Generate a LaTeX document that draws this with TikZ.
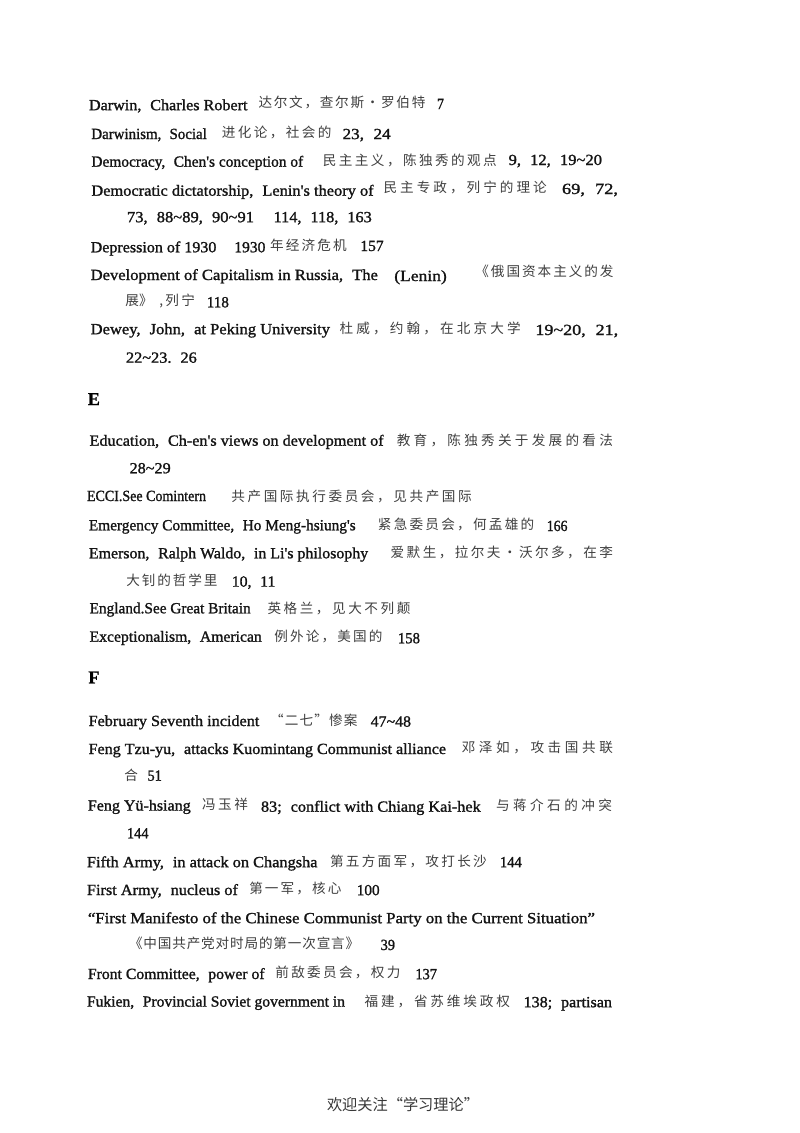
\documentclass[tikz,border=0pt]{standalone}
\usepackage{graphicx}
\usepackage{fontspec}
\newfontfamily\latf[FakeBold=1.3]{Liberation Serif}
\newfontfamily\headf[FakeBold=0.8]{Liberation Serif Bold}
\newfontfamily\hanf{Noto Sans CJK SC}
\definecolor{ink}{gray}{0.08}
\definecolor{haninkc}{gray}{0.25}
\newcount\nodeno
\newsavebox\fitb
\newdimen\fitd
\newcommand\fitw[3]{\sbox\fitb{#3}\fitd=\wd\fitb\pgfmathsetmacro\fitr{(#2-#1)/\the\fitd}\scalebox{\fitr}[1]{\usebox\fitb}}
\def\spr#1{\spra#1\relax}
\def\spra#1{#1\sprb}
\def\sprb#1{\ifx#1\relax\else\hfil#1\expandafter\sprb\fi}
\newcommand\cs{,\hspace{0.55em}}
\newcommand\tl{\textasciitilde}
\tikzset{
  lattext/.style={anchor=base west,inner sep=0pt,outer sep=0pt,text=ink,font=\latf\fontsize{15.5}{15.5}\selectfont},
  hantext/.style={anchor=base west,inner sep=0pt,outer sep=0pt,text=haninkc,font=\hanf\fontsize{13.6}{14}\selectfont},
  headtext/.style={anchor=base west,inner sep=0pt,outer sep=0pt,text=black,font=\headf\fontsize{18}{18}\selectfont},
  foottext/.style={anchor=base west,inner sep=0pt,outer sep=0pt,text=ink!85!white,font=\hanf\fontsize{15.5}{15.5}\selectfont}
}
\newcommand\lat[4]{\global\advance\nodeno by 1
  \node[lattext] (n\the\nodeno) at (#1,#3) {\fitw{#1}{#2}{#4}};}
\newcommand\han[4]{\global\advance\nodeno by 1
  \pgfmathsetmacro\hanw{#2-#1}
  \node[hantext] (n\the\nodeno) at (#1,#3) {\makebox[\hanw pt][s]{\spr{#4}}};}
\begin{document}
\begin{tikzpicture}[x=1pt,y=-1pt]
\useasboundingbox (0,0) rectangle (800,1133);
\fill[white] (0,0) rectangle (800,1133);
% D
\lat{89}{247.5}{110.2}{Darwin\cs Charles Robert}
\han{258.6}{425.4}{107.4}{达尔文，查尔斯·罗伯特}
\lat{437}{444}{109}{7}
\lat{91.4}{206.8}{139}{Darwinism\cs Social}
\han{221.8}{331.4}{137.6}{进化论，社会的}
\lat{342.5}{390.7}{139.1}{23\cs 24}
\lat{91.4}{303.2}{166.7}{Democracy\cs Chen's conception of}
\han{322.9}{496.8}{165}{民主主义，陈独秀的观点}
\lat{508.6}{602}{165}{9\cs 12\cs 19\tl 20}
\lat{91.4}{373.6}{195.7}{Democratic dictatorship\cs Lenin's theory of}
\han{383.6}{546.8}{192.7}{民主专政，列宁的理论}
\lat{562}{618}{194}{69\cs 72,}
\lat{127}{254}{222.2}{73\cs 88\tl 89\cs 90\tl 91}
\lat{273.6}{371.8}{222.2}{114\cs 118\cs 163}
\lat{90.7}{216.4}{252.3}{Depression of 1930}
\lat{234.3}{265.4}{252.3}{1930}
\han{270}{346.8}{250}{年经济危机}
\lat{360.4}{383.6}{251}{157}
\lat{90.7}{377.9}{280}{Development of Capitalism in Russia\cs The}
\lat{394.3}{446.8}{281}{(Lenin)}
\han{475.4}{613.6}{276.7}{《俄国资本主义的发}
\han{125.4}{148.6}{305}{展》}
\han{159.3}{195}{305}{,列宁}
\lat{206.8}{228.9}{307.3}{118}
\lat{90.7}{330}{334.2}{Dewey\cs John\cs at Peking University}
\han{339.6}{520.7}{333.3}{杜威，约翰，在北京大学}
\lat{535.4}{618.2}{335}{19\tl 20\cs 21,}
\lat{126}{196.8}{362.7}{22\tl 23.\hspace{0.55em}26}
% E
\node[headtext] (headE) at (87.9,405) {E};
\lat{89.6}{383.6}{445.7}{Education\cs Ch-en's views on development of}
\han{396.8}{612.9}{445}{教育，陈独秀关于发展的看法}
\lat{129.6}{170.7}{473.3}{28\tl 29}
\lat{87}{206}{501}{ECCI.See Comintern}
\han{231.4}{471.8}{501}{共产国际执行委员会，见共产国际}
\lat{88.9}{355.7}{530.3}{Emergency Committee\cs Ho Meng-hsiung's}
\han{377.9}{534.3}{529.3}{紧急委员会，何孟雄的}
\lat{546.8}{567.5}{531}{166}
\lat{88.9}{368.2}{558.3}{Emerson\cs Ralph Waldo\cs in Li's philosophy}
\han{390.7}{612.9}{557}{爱默生，拉尔夫·沃尔多，在李}
\han{126.4}{217.5}{585}{大钊的哲学里}
\lat{231.8}{275.4}{586.6}{10\cs 11}
\lat{89.6}{250.7}{613.3}{England.See Great Britain}
\han{267.5}{410.4}{613.3}{英格兰，见大不列颠}
\lat{89.6}{261.8}{641.7}{Exceptionalism\cs American}
\han{274.3}{382.5}{641}{例外论，美国的}
\lat{397.9}{420}{643.3}{158}
% F
\node[headtext] (headF) at (88.4,683.3) {F};
\lat{88.6}{259.3}{726}{February Seventh incident}
\han{270}{357.5}{725}{“二七”惨案}
\lat{370.7}{411}{726.6}{47\tl 48}
\lat{88.6}{446}{754}{Feng Tzu-yu\cs attacks Kuomintang Communist alliance}
\han{461.8}{612.9}{752.7}{邓泽如，攻击国共联}
\han{124.3}{137}{780}{合}
\lat{147.5}{161.8}{780.7}{51}
\lat{87.9}{190.7}{810.6}{Feng Yü-hsiang}
\han{202}{247.9}{809}{冯玉祥}
\lat{261}{480.7}{811.7}{83;\hspace{0.55em}conflict with Chiang Kai-hek}
\han{496}{612}{810}{与蒋介石的冲突}
\lat{127}{148.6}{838.3}{144}
\lat{87}{317.5}{867.2}{Fifth Army\cs in attack on Changsha}
\han{330}{486.8}{866}{第五方面军，攻打长沙}
\lat{500}{521.8}{867.2}{144}
\lat{87}{237.9}{895}{First Army\cs nucleus of}
\han{249.3}{341.4}{893.3}{第一军，核心}
\lat{356.8}{379.6}{895.2}{100}
\lat{87.9}{595}{923.2}{“First Manifesto of the Chinese Communist Party on the Current Situation”}
\han{129}{359.3}{948.4}{《中国共产党对时局的第一次宣言》}
\lat{380.7}{395}{950}{39}
\lat{87.9}{264.6}{979}{Front Committee\cs power of}
\han{275.4}{400.4}{977.7}{前敌委员会，权力}
\lat{415.4}{437}{979.2}{137}
\lat{87}{345}{1006.6}{Fukien\cs Provincial Soviet government in}
\han{364.6}{510}{1006.6}{福建，省苏维埃政权}
\lat{523.6}{612}{1007.2}{138;\hspace{0.55em}partisan}
% footer
\node[foottext] (footer) at (327,1110) {\fitw{327}{479}{欢迎关注“学习理论”}};
\end{tikzpicture}
\end{document}
